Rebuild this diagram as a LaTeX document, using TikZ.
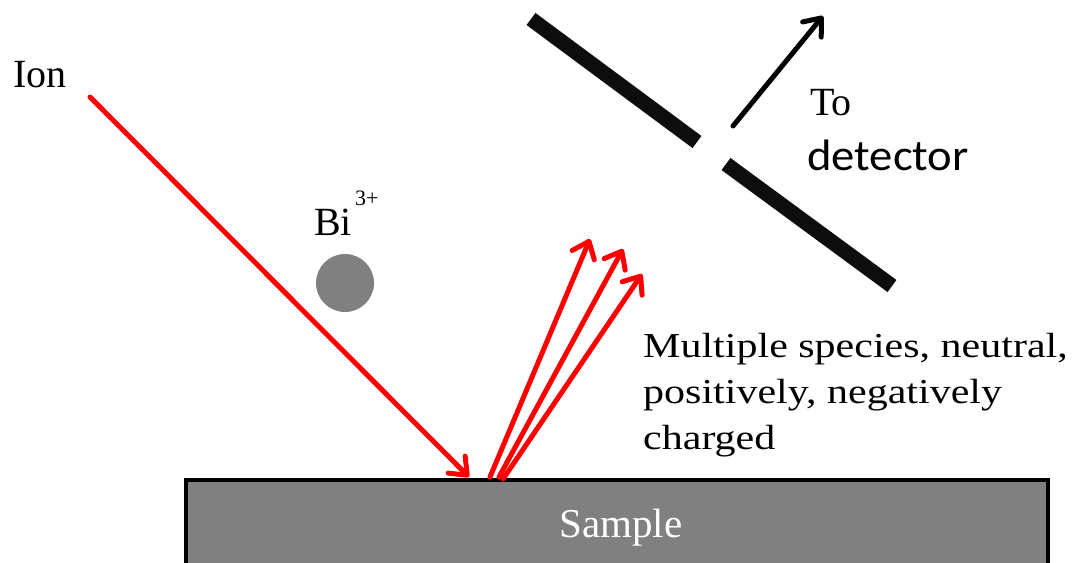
\documentclass[tikz,border=0pt]{standalone}
\usepackage{fontspec}
\setmainfont{Liberation Serif}
\newfontfamily\widefont{Liberation Serif}[FakeStretch=1.2]
\newfontfamily\calfont{Carlito}[FakeStretch=1.06]
\usetikzlibrary{arrows.meta}
\definecolor{samplegray}{RGB}{128,128,128}
\definecolor{plateblack}{RGB}{13,13,13}
\definecolor{rayred}{RGB}{255,0,0}
\begin{document}
\begin{tikzpicture}[x=1pt,y=-1pt,
  barb/.style={-{Straight Barb[length=15pt,width=24pt,round]}},
  ray/.style={barb, line width=5pt, line cap=round, draw=rayred},
  blackray/.style={barb, line width=5pt, line cap=round, draw=black},
  plate/.style={line width=15pt, draw=plateblack, line cap=butt},
  lbl/.style={inner sep=0pt, anchor=base west, font=\fontsize{40}{46}\selectfont},
  multi/.style={inner sep=0pt, anchor=base west, font=\widefont\fontsize{35}{46}\selectfont}]
\useasboundingbox (0,0) rectangle (1078,562);
\fill[white] (0,0) rectangle (1078,562);
% sample
\draw[line width=4.5pt, fill=samplegray] (186,480) rectangle (1048,620);
\node[inner sep=0pt, anchor=base, text=white, font=\fontsize{41}{46}\selectfont] (sample) at (621,537) {Sample};
% labels
\node[lbl] (ion) at (13,87) {Ion};
\node[lbl] (bi) at (314,235) {Bi};
\node[inner sep=0pt, anchor=base west, font=\fontsize{22}{24}\selectfont] (charge) at (355,205) {3+};
\node[lbl] (to) at (810,115) {To};
\node[inner sep=0pt, anchor=base west, font=\calfont\fontsize{44}{50}\selectfont] (det) at (807,170) {detector};
\node[multi] (m1) at (643,357) {Multiple species, neutral,};
\node[multi] (m2) at (643,403) {positively, negatively};
\node[multi] (m3) at (643,449) {charged};
% ion particle
\fill[samplegray] (345,283) circle[radius=29] coordinate (ball);
% plates
\coordinate (p1a) at (531,19);
\coordinate (p1b) at (697,142);
\coordinate (p2a) at (726,164);
\coordinate (p2b) at (892,286);
\draw[plate] (p1a) -- (p1b);
\draw[plate] (p2a) -- (p2b);
% rays
\coordinate (ionstart) at (90,97);
\coordinate (impact) at (469,477);
\draw[ray] (ionstart) -- (impact);
\coordinate (s1) at (490,477);
\coordinate (s2) at (499,477);
\coordinate (s3) at (503,479);
\coordinate (t1) at (590,239);
\coordinate (t2) at (623,249);
\coordinate (t3) at (642,274);
\draw[ray] (s1) -- (t1);
\draw[ray] (s2) -- (t2);
\draw[ray] (s3) -- (t3);
\coordinate (dstart) at (733,126);
\coordinate (dend) at (823,16);
\draw[blackray] (dstart) -- (dend);
\end{tikzpicture}
\end{document}
